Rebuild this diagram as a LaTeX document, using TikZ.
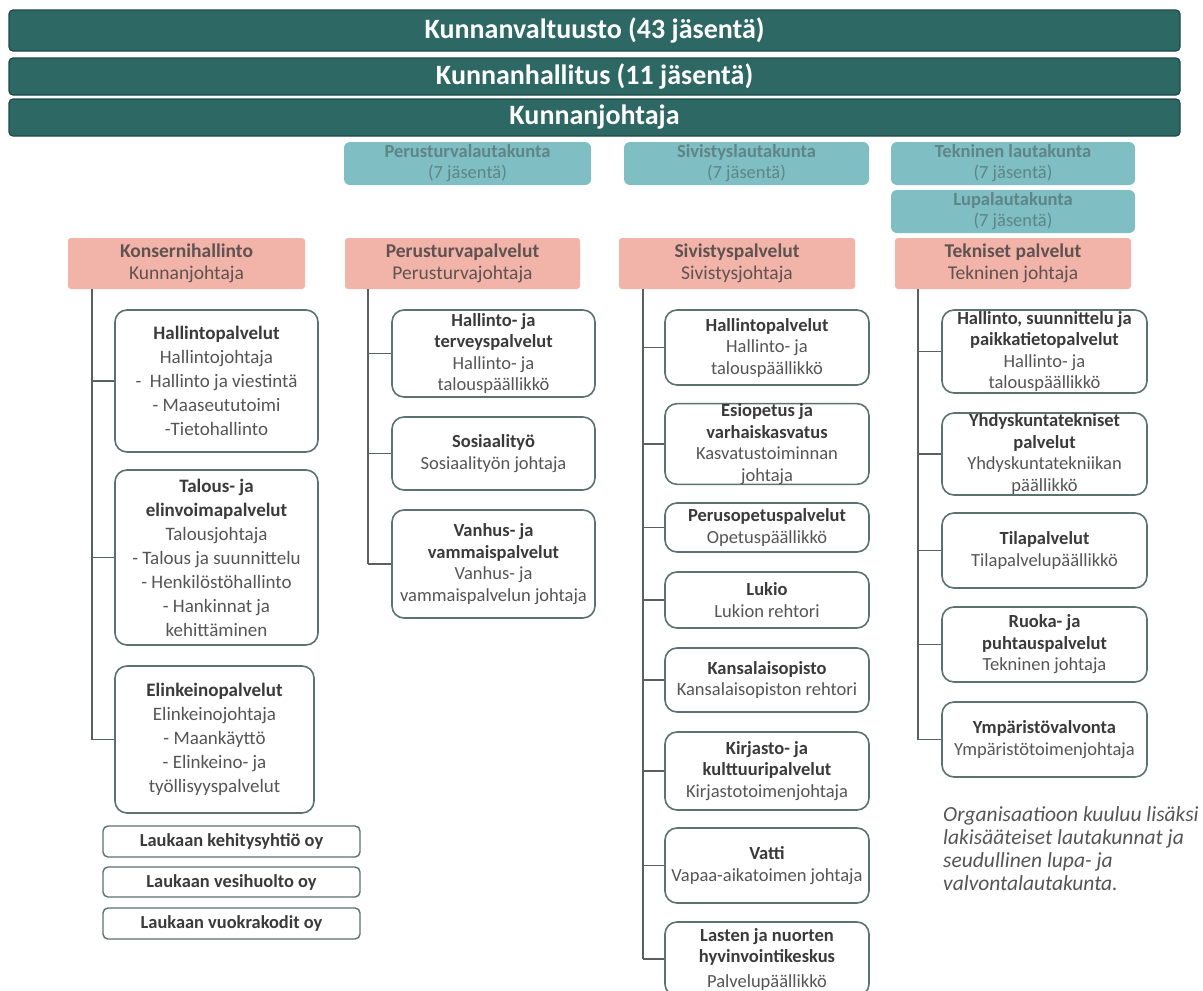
\documentclass[tikz,border=0pt]{standalone}
\usepackage{fontspec}
\setmainfont{Carlito}
\definecolor{barc}{HTML}{2E6864}
\definecolor{barb}{HTML}{1E4845}
\definecolor{cmtec}{HTML}{7FBEC2}
\definecolor{cmtet}{HTML}{5E8587}
\definecolor{deptc}{HTML}{F2B4A9}
\definecolor{deptt}{HTML}{5F5250}
\definecolor{unitb}{HTML}{5E7171}
\definecolor{unitt}{HTML}{555555}
\definecolor{unith}{HTML}{3A3A3A}
\definecolor{connc}{HTML}{5A5F5F}
\definecolor{notec}{HTML}{555555}
\newcommand\uh[1]{{\bfseries\color{unith}#1}}
\newcommand\mybox[7]{%
  \pgfmathsetmacro\myw{#5-#3}\pgfmathsetmacro\myh{#6-#4}%
  \pgfmathsetmacro\mycx{(#3+#5)/2}\pgfmathsetmacro\mycy{(#4+#6)/2}%
  \node[#1, minimum width=\myw pt, minimum height=\myh pt] (#2) at (\mycx,\mycy) {#7};}
\begin{document}
\begin{tikzpicture}[x=1pt,y=-1pt,
  bar/.style={fill=barc, draw=barb, line width=1.2pt, rounded corners=4pt, text=white, font=\fontsize{28}{32}\selectfont\bfseries, inner sep=0pt},
  cmte/.style={fill=cmtec, rounded corners=6pt, text=cmtet, align=center, font=\fontsize{18.5}{21}\selectfont, inner sep=0pt},
  dept/.style={fill=deptc, rounded corners=3pt, text=deptt, align=center, font=\fontsize{19.5}{22}\selectfont, inner sep=0pt},
  unit/.style={draw=unitb, line width=1.6pt, fill=white, rounded corners=12pt, text=unitt, align=center, font=\fontsize{18.5}{21.5}\selectfont, inner sep=0pt},
  unitA/.style={unit, font=\fontsize{19}{24}\selectfont},
  comp/.style={draw=unitb, line width=1.4pt, fill=white, rounded corners=5pt, text=unith, font=\fontsize{18.4}{20}\selectfont\bfseries, inner sep=0pt},
  conn/.style={draw=connc, line width=1.5pt},
  note/.style={text=notec, align=left, font=\fontsize{21.5}{23}\selectfont\itshape, inner sep=0pt}]
\useasboundingbox (0,0) rectangle (1203,991);
\clip (0,0) rectangle (1203,991);
\fill[white] (0,0) rectangle (1203,991);

% top bars
\mybox{bar}{valt}{9}{10}{1180}{51}{Kunnanvaltuusto (43 jäsentä)}
\mybox{bar}{hall}{9}{58}{1180}{95}{Kunnanhallitus (11 jäsentä)}
\mybox{bar}{joht}{9}{99}{1180}{136}{Kunnanjohtaja}

% committees
\mybox{cmte}{c1}{344}{142}{591}{185}{\textbf{Perusturvalautakunta}\\(7 jäsentä)}
\mybox{cmte}{c2}{624}{142}{869}{185}{\textbf{Sivistyslautakunta}\\(7 jäsentä)}
\mybox{cmte}{c3}{891}{142}{1135}{185}{\textbf{Tekninen lautakunta}\\(7 jäsentä)}
\mybox{cmte}{c4}{891}{190}{1135}{233}{\textbf{Lupalautakunta}\\(7 jäsentä)}

% departments
\mybox{dept}{d1}{68}{238}{305}{289}{\textbf{Konsernihallinto}\\Kunnanjohtaja}
\mybox{dept}{d2}{345}{238}{580}{289}{\textbf{Perusturvapalvelut}\\Perusturvajohtaja}
\mybox{dept}{d3}{619}{238}{855}{289}{\textbf{Sivistyspalvelut}\\Sivistysjohtaja}
\mybox{dept}{d4}{895}{238}{1131}{289}{\textbf{Tekniset palvelut}\\Tekninen johtaja}

% column 1
\mybox{unitA}{h1}{115}{310}{318}{452}{\uh{Hallintopalvelut}\\Hallintojohtaja\\-\ \ Hallinto ja viestintä\\- Maaseututoimi\\-Tietohallinto}
\mybox{unitA}{h2}{115}{470}{318}{645}{\uh{Talous- ja}\\\uh{elinvoimapalvelut}\\Talousjohtaja\\- Talous ja suunnittelu\\- Henkilöstöhallinto\\- Hankinnat ja\\kehittäminen}
\mybox{unitA}{h3}{115}{666}{314}{813}{\uh{Elinkeinopalvelut}\\Elinkeinojohtaja\\- Maankäyttö\\- Elinkeino- ja\\työllisyyspalvelut}
\mybox{comp}{l1}{103}{826}{360}{857}{Laukaan kehitysyhtiö oy}
\mybox{comp}{l2}{103}{867}{360}{897}{Laukaan vesihuolto oy}
\mybox{comp}{l3}{103}{908}{360}{939}{Laukaan vuokrakodit oy}

% column 2
\mybox{unit}{p1}{392}{310}{595}{397}{\uh{Hallinto- ja}\\\uh{terveyspalvelut}\\Hallinto- ja\\talouspäällikkö}
\mybox{unit}{p2}{392}{417}{595}{490}{\uh{Sosiaalityö}\\Sosiaalityön johtaja}
\mybox{unit}{p3}{392}{510}{595}{618}{\uh{Vanhus- ja}\\\uh{vammaispalvelut}\\Vanhus- ja\\vammaispalvelun johtaja}

% column 3
\mybox{unit}{s1}{665}{310}{869}{385}{\uh{Hallintopalvelut}\\Hallinto- ja\\talouspäällikkö}
\mybox{unit}{s2}{665}{405}{869}{483}{\uh{Esiopetus ja}\\\uh{varhaiskasvatus}\\Kasvatustoiminnan\\johtaja}
\mybox{unit}{s3}{665}{503}{869}{552}{\uh{Perusopetuspalvelut}\\Opetuspäällikkö}
\mybox{unit}{s4}{665}{572}{869}{628}{\uh{Lukio}\\Lukion rehtori}
\mybox{unit}{s5}{665}{648}{869}{712}{\uh{Kansalaisopisto}\\Kansalaisopiston rehtori}
\mybox{unit}{s6}{665}{732}{869}{810}{\uh{Kirjasto- ja}\\\uh{kulttuuripalvelut}\\Kirjastotoimenjohtaja}
\mybox{unit}{s7}{665}{828}{869}{903}{\uh{Vatti}\\Vapaa-aikatoimen johtaja}
\mybox{unit}{s8}{665}{922}{869}{996}{\uh{Lasten ja nuorten}\\\uh{hyvinvointikeskus}\\[3pt]Palvelupäällikkö}

% column 4
\mybox{unit}{t1}{942}{310}{1147}{393}{\uh{Hallinto, suunnittelu ja}\\\uh{paikkatietopalvelut}\\Hallinto- ja\\talouspäällikkö}
\mybox{unit}{t2}{942}{413}{1147}{495}{\uh{Yhdyskuntatekniset}\\\uh{palvelut}\\Yhdyskuntatekniikan\\päällikkö}
\mybox{unit}{t3}{942}{513}{1147}{588}{\uh{Tilapalvelut}\\Tilapalvelupäällikkö}
\mybox{unit}{t4}{942}{607}{1147}{682}{\uh{Ruoka- ja}\\\uh{puhtauspalvelut}\\Tekninen johtaja}
\mybox{unit}{t5}{942}{702}{1147}{777}{\uh{Ympäristövalvonta}\\Ympäristötoimenjohtaja}

\node[note, anchor=north west] (note) at (943,806) {Organisaatioon kuuluu lisäksi\\lakisääteiset lautakunnat ja\\seudullinen lupa- ja\\valvontalautakunta.};

% connectors
\coordinate (k1) at (92,0);
\coordinate (k2) at (368,0);
\coordinate (k3) at (643,0);
\coordinate (k4) at (918,0);
\draw[conn] (d1.south -| k1) -- (h3.west -| k1);
\draw[conn] (d2.south -| k2) -- (p3.west -| k2);
\draw[conn] (d3.south -| k3) -- (s8.west -| k3);
\draw[conn] (d4.south -| k4) -- (t5.west -| k4);
\foreach \b in {h1,h2,h3} \draw[conn] (\b.west -| k1) -- (\b.west);
\foreach \b in {p1,p2,p3} \draw[conn] (\b.west -| k2) -- (\b.west);
\foreach \b in {s1,s2,s3,s4,s5,s6,s7,s8} \draw[conn] (\b.west -| k3) -- (\b.west);
\foreach \b in {t1,t2,t3,t4,t5} \draw[conn] (\b.west -| k4) -- (\b.west);
\end{tikzpicture}
\end{document}
